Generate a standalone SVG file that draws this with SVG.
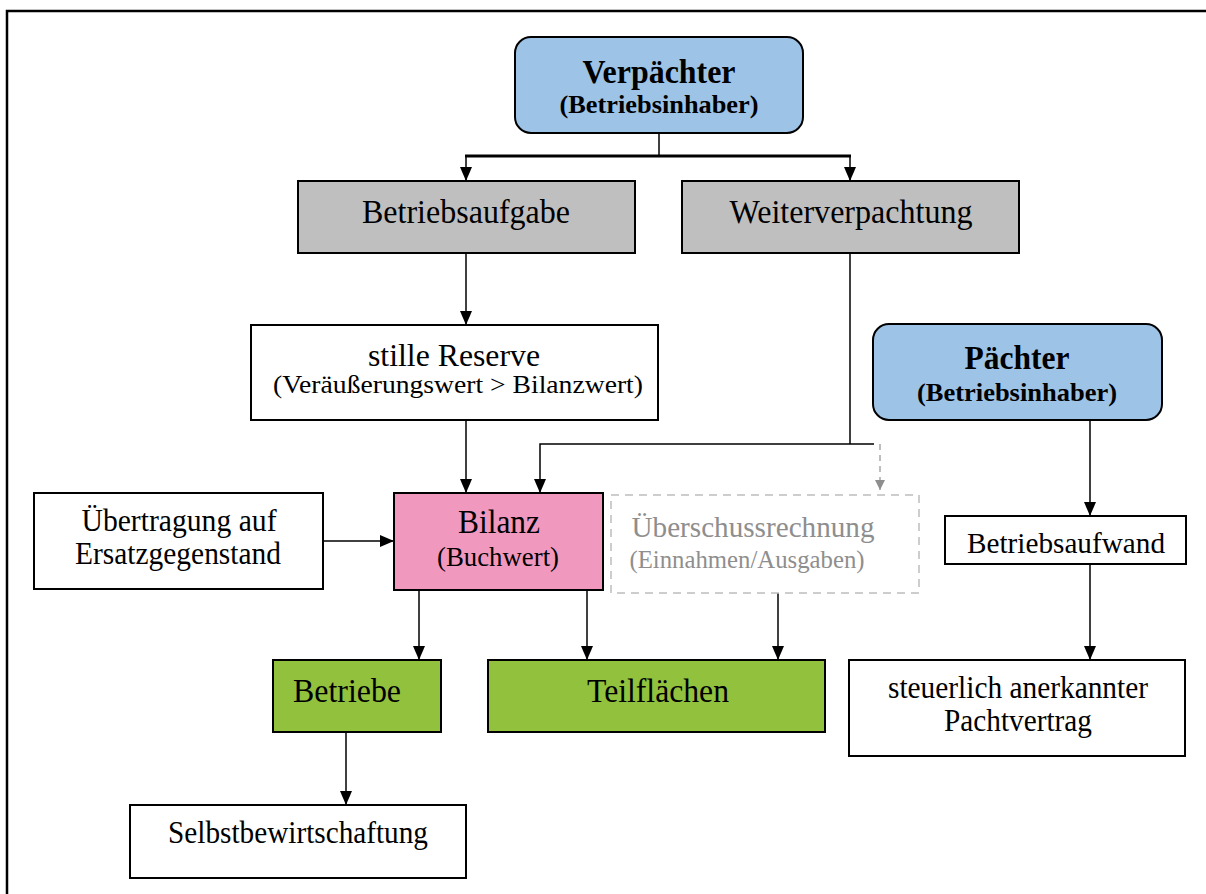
<svg xmlns="http://www.w3.org/2000/svg" width="1206" height="894" viewBox="0 0 1206 894">
<style>
text{font-family:"Liberation Serif","Times New Roman",serif;fill:#000;text-anchor:middle}
.b{font-weight:bold}
.box{stroke:#000;stroke-width:2}
.blue{fill:#9DC3E6}
.gray{fill:#BFBFBF}
.white{fill:#FFFFFF}
.pink{fill:#F198BF}
.green{fill:#92C13E}
.dash{fill:#FFFFFF;stroke:#BDBDBD;stroke-width:1.5;stroke-dasharray:8 6}
.gt{fill:#8E8E8E}
.c{fill:none;stroke:#000;stroke-width:1.5}
.a{marker-end:url(#ah)}
</style>
<defs>
<marker id="ah" viewBox="0 0 14 12" refX="14" refY="6" markerWidth="14" markerHeight="12" markerUnits="userSpaceOnUse" orient="auto">
<path d="M0,0 L14,6 L0,12 z" fill="#000"/>
</marker>
<marker id="gh" viewBox="0 0 10 10" refX="10" refY="5" markerWidth="10" markerHeight="10" markerUnits="userSpaceOnUse" orient="auto">
<path d="M0,0 L10,5 L0,10 z" fill="#8E8E8E"/>
</marker>
</defs>
<rect width="1206" height="894" fill="#FFFFFF"/>
<g id="frame">
<path d="M7,894 L7,11 L1206,11" fill="none" stroke="#000" stroke-width="2.5"/>
</g>
<g id="connectors">
<path class="c" d="M659,133 L659,156"/>
<path d="M465,156 L851,156" stroke="#000" stroke-width="3" fill="none"/>
<path class="c a" d="M466,156 L466,181"/>
<path class="c a" d="M850,156 L850,181"/>
<path class="c a" d="M466,253 L466,325"/>
<path class="c a" d="M466,420 L466,493"/>
<path class="c" d="M850,253 L850,444"/>
<path class="c a" d="M874,444 L540,444 L540,493"/>
<path d="M880,444 L880,490" fill="none" stroke="#A8A8A8" stroke-width="1.5" stroke-dasharray="6 5" marker-end="url(#gh)"/>
<path class="c a" d="M323,541 L394,541"/>
<path class="c a" d="M419,590 L419,660"/>
<path class="c a" d="M587,590 L587,660"/>
<path class="c a" d="M778,593 L778,660"/>
<path class="c a" d="M346,732 L346,805"/>
<path class="c a" d="M1090,420 L1090,516"/>
<path class="c a" d="M1090,564 L1090,660"/>
</g>
<g id="verpaechter">
<rect class="box blue" x="515" y="37" width="288" height="96" rx="16"/>
<text class="b" x="659" y="83" font-size="34" textLength="153" lengthAdjust="spacingAndGlyphs">Verpächter</text>
<text class="b" x="659" y="113" font-size="26" textLength="199" lengthAdjust="spacingAndGlyphs">(Betriebsinhaber)</text>
</g>
<g id="betriebsaufgabe">
<rect class="box gray" x="298" y="181" width="337" height="72"/>
<text x="466" y="223" font-size="33" textLength="208" lengthAdjust="spacingAndGlyphs">Betriebsaufgabe</text>
</g>
<g id="weiterverpachtung">
<rect class="box gray" x="682" y="181" width="337" height="72"/>
<text x="851" y="223" font-size="33" textLength="243" lengthAdjust="spacingAndGlyphs">Weiterverpachtung</text>
</g>
<g id="stille-reserve">
<rect class="box white" x="251" y="325" width="407" height="95" stroke-width="1.5"/>
<text x="454" y="366" font-size="31" textLength="172" lengthAdjust="spacingAndGlyphs">stille Reserve</text>
<text x="458" y="393" font-size="25" textLength="370" lengthAdjust="spacingAndGlyphs">(Veräußerungswert &gt; Bilanzwert)</text>
</g>
<g id="paechter">
<rect class="box blue" x="873" y="324" width="289" height="96" rx="16"/>
<text class="b" x="1017" y="369" font-size="33" textLength="105" lengthAdjust="spacingAndGlyphs">Pächter</text>
<text class="b" x="1017" y="401" font-size="26" textLength="200" lengthAdjust="spacingAndGlyphs">(Betriebsinhaber)</text>
</g>
<g id="uebertragung">
<rect class="box white" x="34" y="493" width="289" height="96" stroke-width="1.5"/>
<text x="179" y="531" font-size="31" textLength="195" lengthAdjust="spacingAndGlyphs">Übertragung auf</text>
<text x="178" y="564" font-size="31" textLength="206" lengthAdjust="spacingAndGlyphs">Ersatzgegenstand</text>
</g>
<g id="bilanz">
<rect class="box pink" x="394" y="493" width="209" height="97"/>
<text x="499" y="533" font-size="33" textLength="82" lengthAdjust="spacingAndGlyphs">Bilanz</text>
<text x="498" y="566" font-size="28" textLength="122" lengthAdjust="spacingAndGlyphs">(Buchwert)</text>
</g>
<g id="ueberschussrechnung">
<rect class="dash" x="611" y="495" width="308" height="98"/>
<text class="gt" x="753" y="537" font-size="29" textLength="243" lengthAdjust="spacingAndGlyphs">Überschussrechnung</text>
<text class="gt" x="747" y="568" font-size="25" textLength="235" lengthAdjust="spacingAndGlyphs">(Einnahmen/Ausgaben)</text>
</g>
<g id="betriebsaufwand">
<rect class="box white" x="945" y="516" width="241" height="48" stroke-width="1.5"/>
<text x="1066" y="553" font-size="30" textLength="198" lengthAdjust="spacingAndGlyphs">Betriebsaufwand</text>
</g>
<g id="betriebe">
<rect class="box green" x="273" y="660" width="168" height="72"/>
<text x="347" y="702" font-size="33" textLength="108" lengthAdjust="spacingAndGlyphs">Betriebe</text>
</g>
<g id="teilflaechen">
<rect class="box green" x="488" y="660" width="337" height="72"/>
<text x="658" y="702" font-size="33" textLength="142" lengthAdjust="spacingAndGlyphs">Teilflächen</text>
</g>
<g id="pachtvertrag">
<rect class="box white" x="849" y="660" width="336" height="96" stroke-width="1.5"/>
<text x="1018" y="698" font-size="31" textLength="260" lengthAdjust="spacingAndGlyphs">steuerlich anerkannter</text>
<text x="1018" y="731" font-size="31" textLength="148" lengthAdjust="spacingAndGlyphs">Pachtvertrag</text>
</g>
<g id="selbstbewirtschaftung">
<rect class="box white" x="130" y="805" width="336" height="73" stroke-width="1.5"/>
<text x="298" y="843" font-size="31" textLength="260" lengthAdjust="spacingAndGlyphs">Selbstbewirtschaftung</text>
</g>
</svg>
